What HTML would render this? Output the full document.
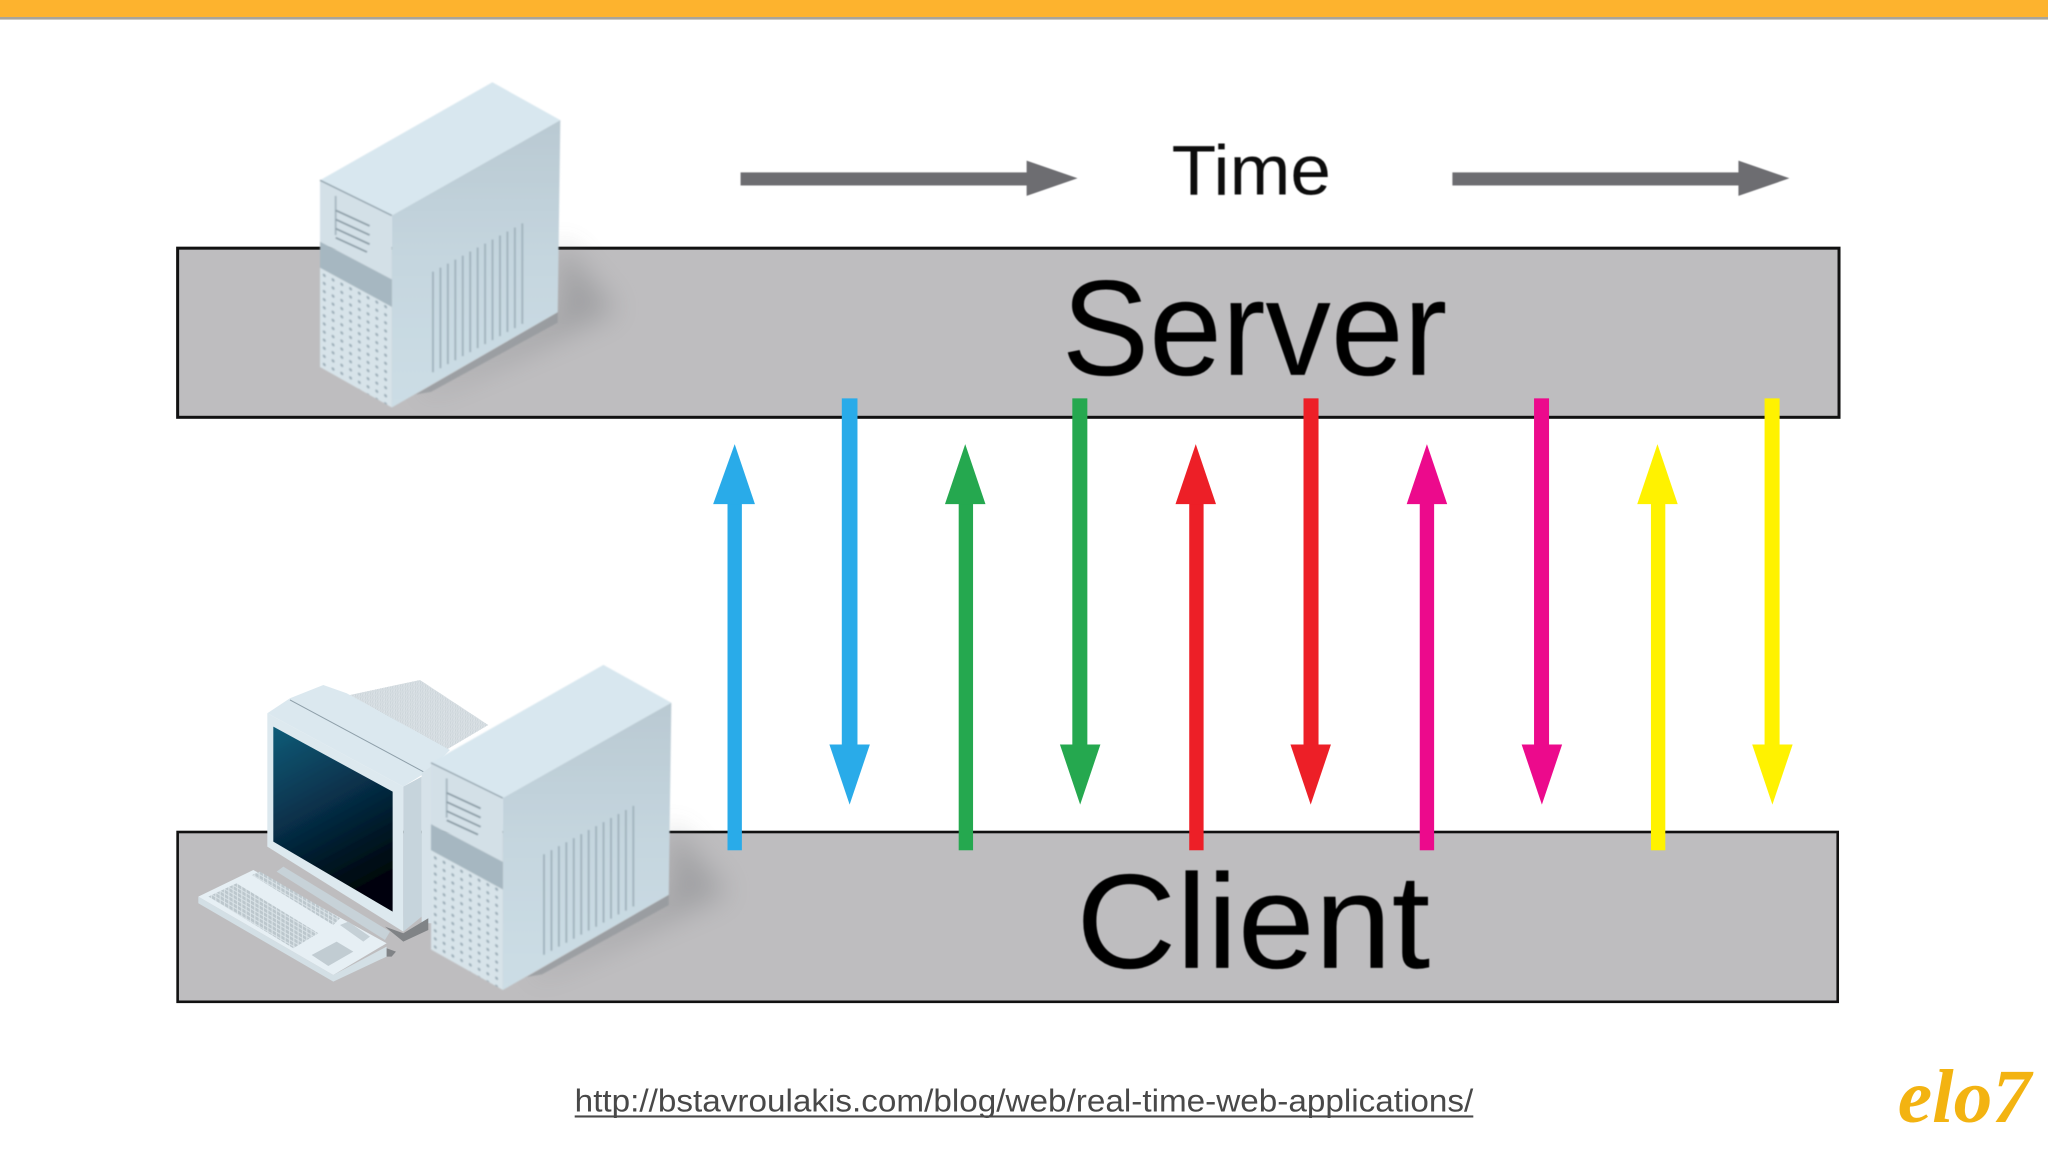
<!DOCTYPE html>
<html>
<head>
<meta charset="utf-8">
<style>
html,body{margin:0;padding:0;background:#fff;width:2048px;height:1152px;overflow:hidden}
svg{display:block}
text{font-family:"Liberation Sans",sans-serif}
</style>
</head>
<body>
<svg width="2048" height="1152" viewBox="0 0 1568 882">
<defs>
<filter id="soft" x="-10%" y="-10%" width="120%" height="120%"><feGaussianBlur stdDeviation="0.55"/></filter>
<filter id="sh" x="-40%" y="-40%" width="180%" height="180%"><feGaussianBlur stdDeviation="11"/></filter>
<filter id="t" x="-5%" y="-5%" width="110%" height="110%"><feGaussianBlur stdDeviation="0.4"/></filter>
<linearGradient id="side" x1="0" y1="0" x2="0" y2="1"><stop offset="0" stop-color="#b9c9d2"/><stop offset=".5" stop-color="#c5d6df"/><stop offset="1" stop-color="#ccdde5"/></linearGradient>
<linearGradient id="scr" x1="0" y1="0" x2=".35" y2="1"><stop offset="0" stop-color="#0f5c78"/><stop offset=".5" stop-color="#07304a"/><stop offset="1" stop-color="#00060c"/></linearGradient>
<pattern id="dots" width="6.7" height="6.2" patternUnits="userSpaceOnUse" patternTransform="translate(245 138) skewY(27)"><rect width="6.7" height="6.2" fill="#d7e3e9"/><circle cx="3.3" cy="3" r="1.15" fill="#9dafb9"/></pattern>
<pattern id="hatch" width="5" height="4" patternUnits="userSpaceOnUse" patternTransform="skewY(30)"><rect width="5" height="4" fill="#e4eaee"/><rect x="0" y="1" width="4" height="2" fill="#bcc6cc"/></pattern>
<pattern id="keys" width="13" height="13" patternUnits="userSpaceOnUse" patternTransform="skewY(30)"><rect width="13" height="13" fill="#dbe4e9"/><rect x="1" y="1" width="10" height="10" fill="#bcc7cd"/></pattern>
<g id="tower" filter="url(#soft)">
<polygon points="377,63 429,92 300,165 245,138" fill="#d8e7ef"/>
<polygon points="429,92 427,239 300,312 300,165" fill="url(#side)"/>
<polygon points="245,138 300,165 300,214 245,185" fill="#d3e0e7"/>
<polygon points="245,185 300,214 300,235 245,205" fill="#a6b7c1"/>
<polygon points="245,205 300,235 300,312 245,281" fill="url(#dots)"/>
<path d="M245 138L300 165" stroke="#8d9ea8" stroke-width="1" fill="none"/>
<path d="M257 150v30" stroke="#a9b9c2" stroke-width="1.5" fill="none"/>
<path d="M257 161l26 12M257 168l26 12M257 175l26 12M257 182l24 11" stroke="#8b9ca6" stroke-width="1.4" fill="none"/>
<path d="M331.5 208v77M337.2 204.9v77M342.9 201.8v77M348.6 198.8v77M354.3 195.7v77M360 192.6v77M365.7 189.5v77M371.4 186.5v77M377.1 183.4v77M382.8 180.3v77M388.5 177.2v77M394.2 174.2v77M399.9 171v77" stroke="#a2b4be" stroke-width="1.5" fill="none"/>
</g>
<polygon id="shadow" points="428,185 472,238 330,300 318,302 427,239" fill="#77797d" opacity=".42" filter="url(#sh)"/>
</defs>

<rect width="1568" height="882" fill="#fff"/>
<rect x="0" y="0" width="1568" height="13" fill="#fdb32e"/>
<rect x="0" y="13" width="1568" height="2" fill="#a8a49a"/>

<!-- bars -->
<rect x="136" y="190" width="1272" height="129.500" fill="#bebdbf" stroke="#111" stroke-width="2.300"/>
<rect x="136" y="637" width="1271" height="130" fill="#bebdbf" stroke="#111" stroke-width="2"/>

<!-- shadows -->
<use href="#shadow"/>
<use href="#shadow" transform="translate(85 446)"/>
<polygon points="318,302 427,239 427,247 330,300" fill="#8f9499" opacity=".65" filter="url(#soft)"/>
<polygon points="403,748 512,685 512,693 415,746" fill="#8f9499" opacity=".65" filter="url(#soft)"/>

<!-- labels -->
<text x="897" y="149" font-size="54" textLength="122" lengthAdjust="spacingAndGlyphs" fill="#111" filter="url(#t)">Time</text>
<text x="813" y="287" font-size="104" textLength="295" lengthAdjust="spacingAndGlyphs" fill="#060606" filter="url(#t)">Server</text>
<text x="824" y="741" font-size="103" textLength="271" lengthAdjust="spacingAndGlyphs" fill="#060606" filter="url(#t)">Client</text>

<!-- time arrows -->
<g fill="#6d6d71" filter="url(#t)">
<rect x="567" y="132" width="222" height="10"/>
<polygon points="786,123 825,136.500 786,150"/>
<rect x="1112" y="132" width="222" height="10"/>
<polygon points="1331,123 1370,136.500 1331,150"/>
</g>

<!-- server tower -->
<use href="#tower"/>

<!-- monitor and keyboard -->
<g transform="scale(.7656) translate(190 670) scale(.3333)" filter="url(#soft)">
<polygon points="480,75 690,30 895,165 760,245" fill="url(#hatch)"/>
<polygon points="232,130 300,85 400,45 470,70 780,240 720,300 640,350" fill="#dbe8ef"/>
<path d="M300 90L700 305" stroke="#8d9ea8" stroke-width="3" fill="none"/>
<polygon points="232,130 640,350 640,785 232,530" fill="#dde9ef"/>
<polygon points="640,350 695,320 695,740 640,785" fill="#c6d4dc"/>
<polygon points="695,310 730,285 730,760 695,760" fill="#d6e2e9"/>
<polygon points="250,170 608,365 608,725 250,515" fill="url(#scr)"/>
<polygon points="585,770 640,790 715,745 715,780 640,815" fill="#808386"/>
<polygon points="280,590 600,785 585,810 260,605" fill="#c7d2d8"/>
<polygon points="430,915 590,830 590,860 430,935 25,700 25,680" fill="#d3dfe5"/>
<polygon points="25,680 190,600 590,820 430,915" fill="#e6eff4"/>
<polygon points="55,680 140,640 385,790 310,835" fill="url(#keys)"/>
<polygon points="365,855 440,815 490,845 415,888" fill="#c1ccd2"/>
<polygon points="185,615 210,605 450,745 430,765" fill="url(#keys)"/>
<polygon points="450,765 475,755 540,800 520,815" fill="#c5d0d6"/>
<polygon points="590,835 618,845 605,860 590,860" fill="#808386"/>
</g>

<!-- client tower -->
<use href="#tower" transform="translate(85 446)"/>

<!-- arrows up -->
<g>
<rect x="557" y="384" width="11" height="267" fill="#29abe9"/><polygon points="562.500,340 578,386 546,386" fill="#29abe9"/>
<rect x="734" y="384" width="11" height="267" fill="#25a84f"/><polygon points="739,340 754.500,386 723.500,386" fill="#25a84f"/>
<rect x="910.500" y="384" width="11" height="267" fill="#ed1f27"/><polygon points="915.500,340 931,386 900,386" fill="#ed1f27"/>
<rect x="1087" y="384" width="11" height="267" fill="#ec0a8c"/><polygon points="1092.500,340 1108,386 1077,386" fill="#ec0a8c"/>
<rect x="1264" y="384" width="11" height="267" fill="#fff200"/><polygon points="1269,340 1284.500,386 1253.500,386" fill="#fff200"/>
</g>
<!-- arrows down -->
<g>
<rect x="644.500" y="305" width="12" height="267" fill="#29abe9"/><polygon points="635,570 666,570 650.500,616" fill="#29abe9"/>
<rect x="821" y="305" width="11.500" height="267" fill="#25a84f"/><polygon points="811.500,570 842.500,570 827,616" fill="#25a84f"/>
<rect x="998" y="305" width="11.500" height="267" fill="#ed1f27"/><polygon points="988,570 1019,570 1003.500,616" fill="#ed1f27"/>
<rect x="1174.500" y="305" width="11.500" height="267" fill="#ec0a8c"/><polygon points="1165,570 1196,570 1180.500,616" fill="#ec0a8c"/>
<rect x="1351" y="305" width="11.500" height="267" fill="#fff200"/><polygon points="1341.500,570 1372.500,570 1357,616" fill="#fff200"/>
</g>

<!-- link -->
<text x="440" y="851" font-size="24.200" textLength="688" lengthAdjust="spacingAndGlyphs" fill="#484848">http://bstavroulakis.com/blog/web/real-time-web-applications/</text>
<rect x="440" y="854" width="688" height="1.600" fill="#484848"/>

<!-- logo -->
<text x="1453" y="859" font-size="58" font-style="italic" font-weight="bold" textLength="102" lengthAdjust="spacingAndGlyphs" fill="#f3b311" style="font-family:'Liberation Serif',serif">elo7</text>
</svg>
</body>
</html>
